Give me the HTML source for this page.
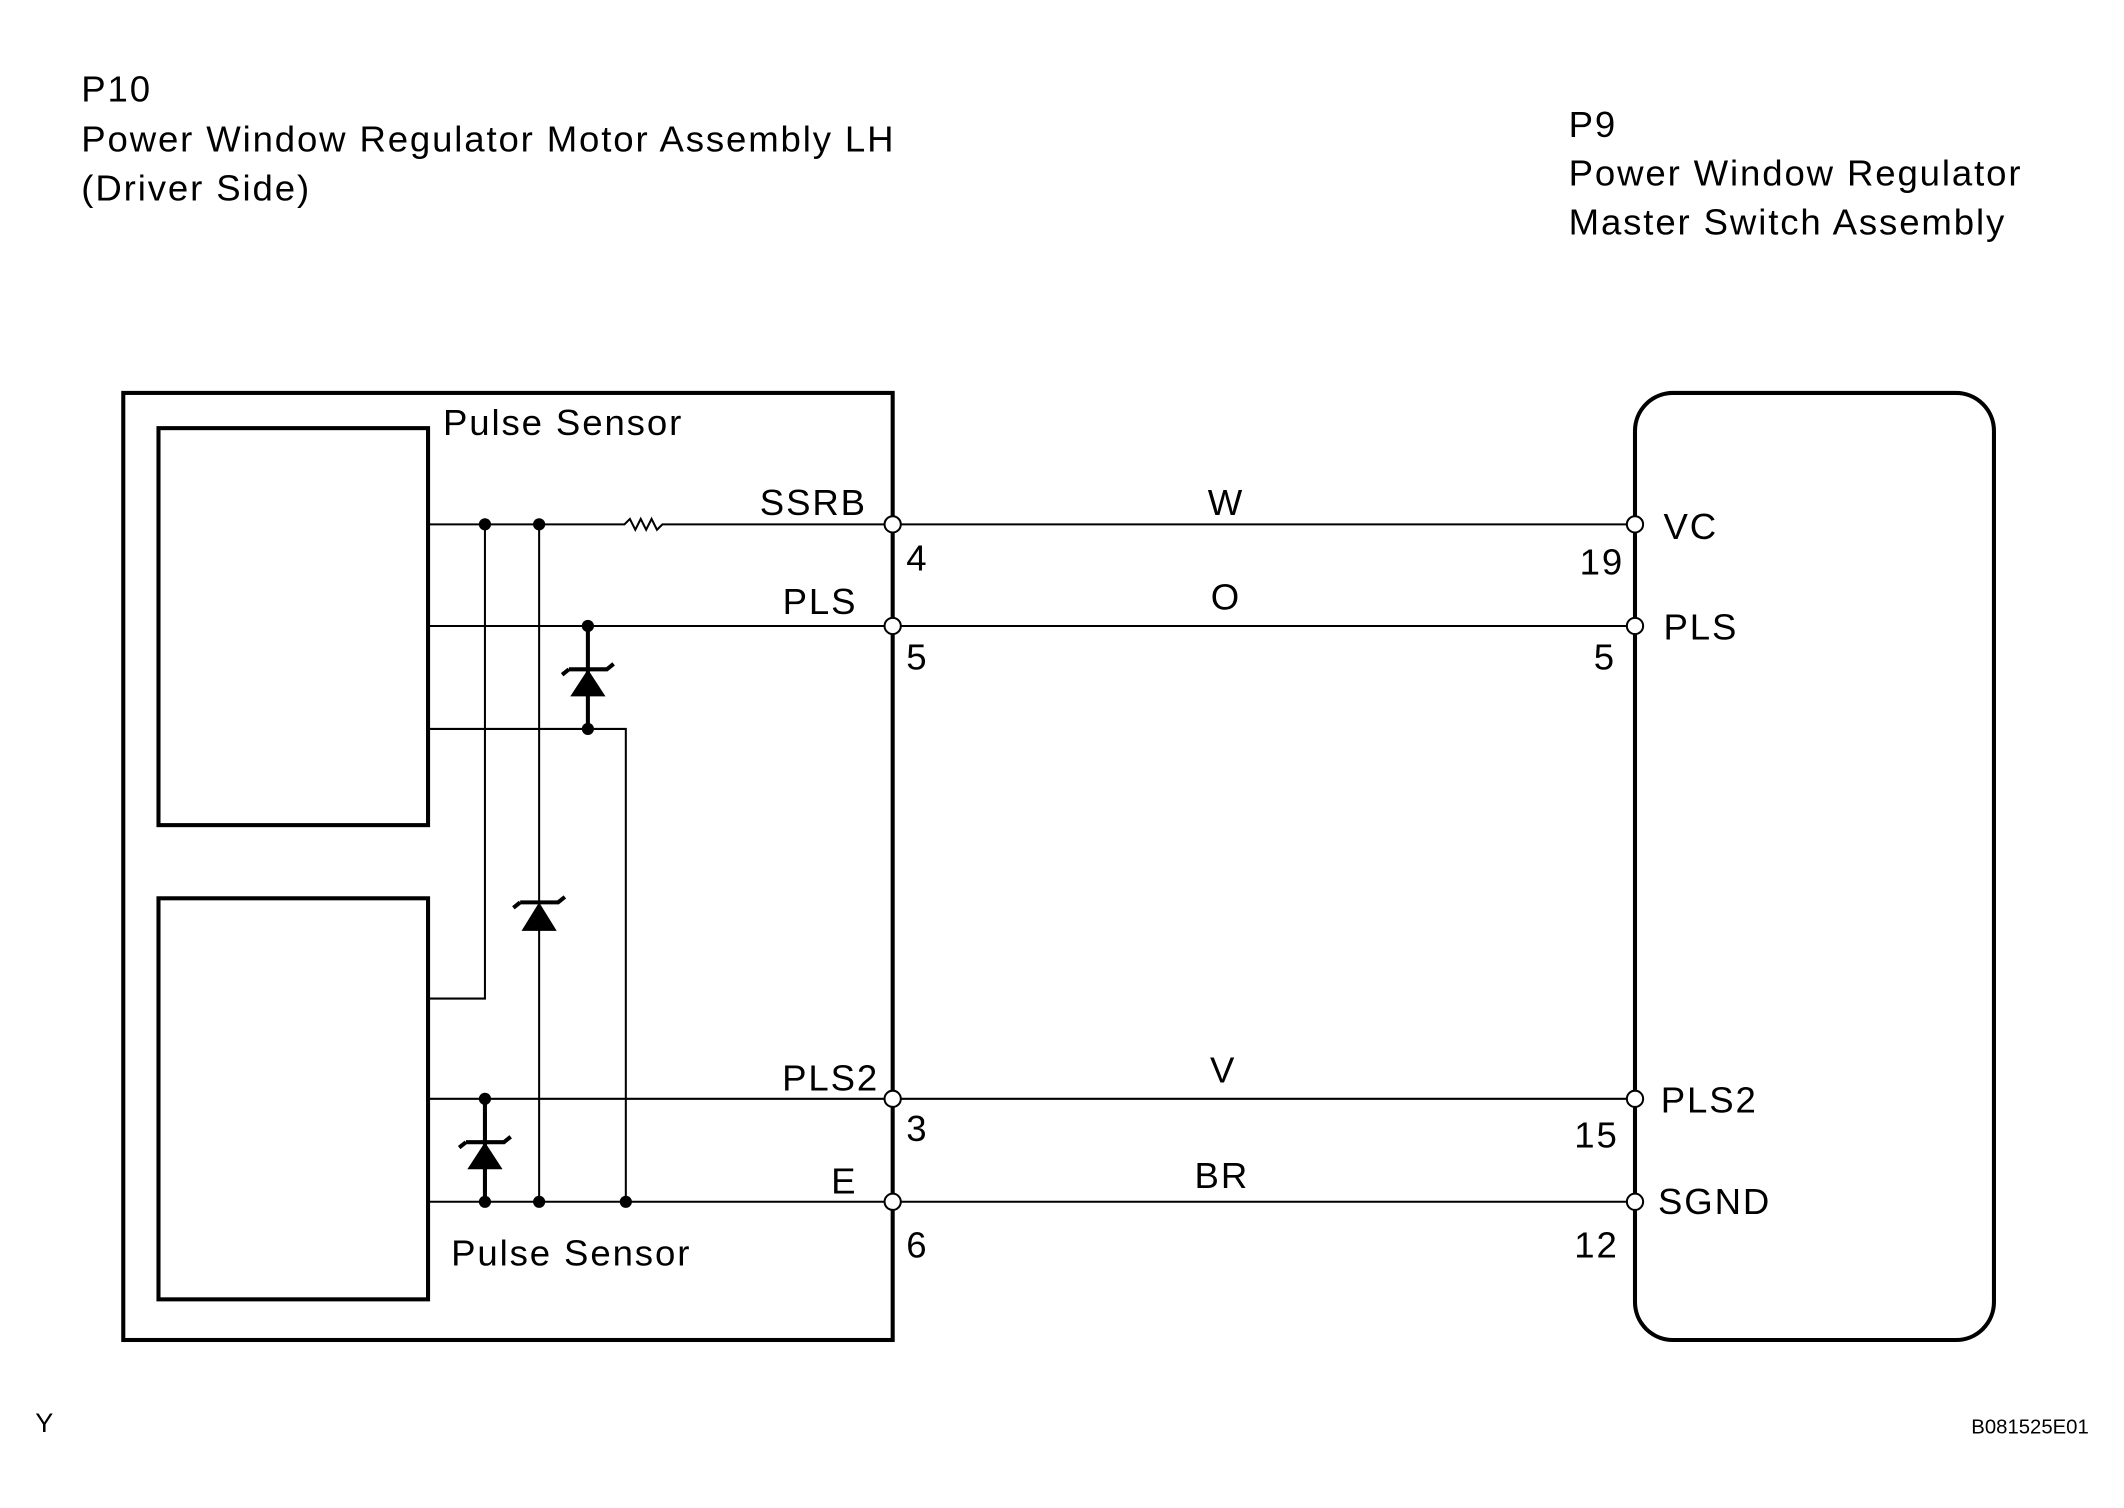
<!DOCTYPE html>
<html><head><style>html,body{margin:0;padding:0;background:#fff}svg{display:block}text{font-family:"Liberation Sans",Arial,sans-serif;fill:#000}</style></head>
<body>
<svg width="2124" height="1508" viewBox="0 0 1568 1113" preserveAspectRatio="none" xmlns="http://www.w3.org/2000/svg">
<g font-size="27" letter-spacing="1.4">
<text x="60" y="75">P10</text>
<text x="60" y="112" textLength="601">Power Window Regulator Motor Assembly LH</text>
<text x="60" y="148">(Driver Side)</text>
<text x="1158" y="101">P9</text>
<text x="1158" y="137" textLength="335">Power Window Regulator</text>
<text x="1158" y="173" textLength="323">Master Switch Assembly</text>
<text x="327" y="321">Pulse Sensor</text>
<text x="333" y="934">Pulse Sensor</text>
<text x="640" y="380" text-anchor="end">SSRB</text>
<text x="633" y="453" text-anchor="end">PLS</text>
<text x="649" y="805" text-anchor="end">PLS2</text>
<text x="633" y="881" text-anchor="end">E</text>
<text x="669" y="421">4</text>
<text x="669" y="494">5</text>
<text x="669" y="842">3</text>
<text x="669" y="928">6</text>
<text x="905" y="380" text-anchor="middle">W</text>
<text x="905" y="450" text-anchor="middle">O</text>
<text x="903" y="799" text-anchor="middle">V</text>
<text x="902" y="877" text-anchor="middle">BR</text>
<text x="1199" y="424" text-anchor="end">19</text>
<text x="1193" y="494" text-anchor="end">5</text>
<text x="1195" y="847" text-anchor="end">15</text>
<text x="1195" y="928" text-anchor="end">12</text>
<text x="1228" y="398">VC</text>
<text x="1228" y="472">PLS</text>
<text x="1226" y="821">PLS2</text>
<text x="1224" y="896">SGND</text>
</g>
<text x="26" y="1057" font-size="20">Y</text>
<text x="1542" y="1058" font-size="15" text-anchor="end">B081525E01</text>
<g fill="none" stroke="#000">
<rect x="91" y="290" width="568" height="699" stroke-width="3"/>
<rect x="117" y="316" width="199" height="293" stroke-width="3"/>
<rect x="117" y="663" width="199" height="296" stroke-width="3"/>
<rect x="1207" y="290" width="265" height="699" rx="28" stroke-width="3"/>
<g stroke-width="1.5">
<path d="M316 387H461l4 -4 4 8 4 -8 4 8 4 -8 4 8 4 -4H1207"/>
<path d="M316 462H1207"/>
<path d="M316 538H462V887"/>
<path d="M316 811H1207"/>
<path d="M316 887H1207"/>
<path d="M358 387V737H316"/>
<path d="M398 387V887"/>
</g>
<path d="M434 462V538M358 811V887" stroke-width="3"/>
<path d="M420 494h14M434 494h14l5 -4M384 666h14M398 666h14l5 -4M344 843h14M358 843h14l5 -4M420 494l-5 4M384 666l-5 4M344 843l-5 4" stroke-width="3"/>
</g>
<g fill="#000">
<path d="M434 494l-13 20h26z"/>
<path d="M398 666l-13 21h26z"/>
<path d="M358 843l-13 20h26z"/>
<circle cx="358" cy="387" r="4.5"/><circle cx="398" cy="387" r="4.5"/>
<circle cx="434" cy="462" r="4.5"/><circle cx="434" cy="538" r="4.5"/>
<circle cx="358" cy="811" r="4.5"/><circle cx="358" cy="887" r="4.5"/>
<circle cx="398" cy="887" r="4.5"/><circle cx="462" cy="887" r="4.5"/>
</g>
<g fill="#fff" stroke="#000" stroke-width="1.5">
<circle cx="659" cy="387" r="6"/><circle cx="659" cy="462" r="6"/><circle cx="659" cy="811" r="6"/><circle cx="659" cy="887" r="6"/>
<circle cx="1207" cy="387" r="6"/><circle cx="1207" cy="462" r="6"/><circle cx="1207" cy="811" r="6"/><circle cx="1207" cy="887" r="6"/>
</g>
</svg>
</body></html>
